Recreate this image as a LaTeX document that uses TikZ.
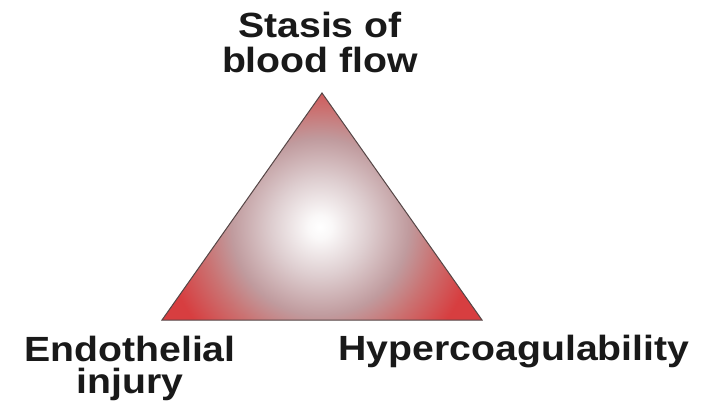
\documentclass[tikz,border=0pt]{standalone}
\usepackage{fontspec}
\setmainfont{Liberation Sans}
\definecolor{tcore}{RGB}{250,248,248}
\definecolor{tlight}{RGB}{222,206,208}
\definecolor{tmid}{RGB}{192,155,158}
\definecolor{tpink}{RGB}{202,115,115}
\definecolor{tred}{RGB}{215,62,64}
\definecolor{tedge}{RGB}{85,70,70}
\pgfdeclareradialshading{trishade}{\pgfpoint{0bp}{0bp}}{color(0bp)=(white); color(3bp)=(tcore); color(12bp)=(tlight); color(22bp)=(tmid); color(29bp)=(tpink); color(39bp)=(tred); color(50bp)=(tred)}
\tikzset{
  lbl/.style={font=\fontsize{35}{35}\selectfont\bfseries, align=center, inner sep=0pt, xscale=1.12, text=black!90},
}
\begin{document}
\begin{tikzpicture}[x=1pt,y=-1pt]
\useasboundingbox[fill=white] (0,0) rectangle (712,404);
\coordinate (apex) at (322,93);
\coordinate (bl) at (162,320);
\coordinate (br) at (482,320);
\coordinate (ctr) at (320,227);
\begin{scope}
  \clip (apex) -- (bl) -- (br) -- cycle;
  \node[inner sep=0pt, scale=4] (glow) at (ctr) {\pgfuseshading{trishade}};
\end{scope}
\draw[tedge, line width=1pt, line join=miter] (apex) -- (bl) -- (br) -- cycle;
\node[lbl, anchor=north] (stasis) at (320,12) {Stasis of\\blood flow};
\node[lbl, anchor=north, font=\fontsize{35}{32}\selectfont\bfseries] (endo) at (130,336) {Endothelial\\injury};
\node[lbl, anchor=north] (hyper) at (514,335) {Hypercoagulability};
\end{tikzpicture}
\end{document}
